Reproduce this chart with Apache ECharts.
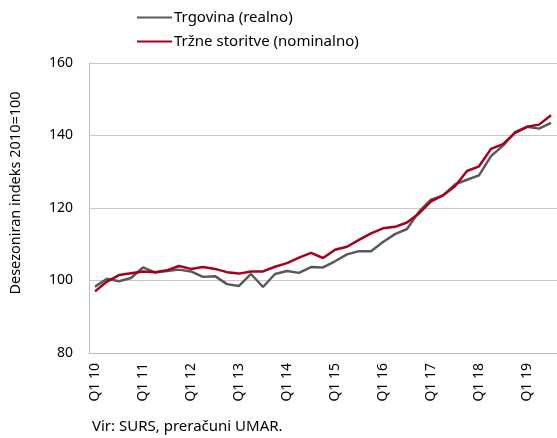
<!DOCTYPE html>
<html>
<head>
<meta charset="utf-8">
<script src="https://cdn.jsdelivr.net/npm/echarts@6/dist/echarts.min.js"></script>
<style>
  html, body { margin: 0; padding: 0; background: #fff; }
  #chart-main { width: 557px; height: 438px; }
</style>
</head>
<body>
<div id="chart-main"></div>
<script>
/* 분기 라벨: Q1 10 ... Q3 19 */
const quarters = [];
for (let y = 10; y <= 19; y++) {
  for (let q = 1; q <= 4; q++) {
    if (y === 19 && q > 3) break;
    quarters.push('Q' + q + ' ' + y);
  }
}

const seriesNames = ['Trgovina (realno)', 'Tržne storitve (nominalno)'];

const trgovina = [
  98.3, 100.5, 99.8, 100.7, 103.6, 102.2, 102.6, 103.0, 102.5, 101.0,
  101.2, 99.0, 98.5, 101.8, 98.2, 101.8, 102.6, 102.1, 103.7, 103.6,
  105.3, 107.2, 108.1, 108.1, 110.6, 112.8, 114.2, 119.0, 122.3, 123.4,
  126.5, 127.8, 129.0, 134.3, 137.2, 140.9, 142.4, 141.9, 143.5
];

const storitve = [
  97.0, 99.7, 101.5, 102.0, 102.5, 102.3, 102.8, 104.0, 103.2, 103.7,
  103.2, 102.3, 101.9, 102.5, 102.5, 103.8, 104.8, 106.3, 107.6, 106.2,
  108.5, 109.3, 111.2, 113.0, 114.4, 114.8, 116.0, 118.5, 121.8, 123.5,
  126.0, 130.2, 131.5, 136.3, 137.6, 140.7, 142.4, 143.0, 145.6
];

const yTicks = { min: 80, max: 160, interval: 20 };

const FONT = "'Noto Sans', sans-serif";
const COLORS = ['#595959', '#a6001e'];

const chart = echarts.init(document.getElementById('chart-main'), null, { renderer: 'canvas' });

chart.setOption({
  animation: false,
  color: COLORS,
  textStyle: { fontFamily: FONT, color: '#000' },
  legend: {
    orient: 'vertical',
    left: 137,
    top: 10,
    padding: 0,
    itemWidth: 35,
    itemHeight: 2,
    itemGap: 9,
    icon: 'rect',
    data: seriesNames,
    textStyle: { fontFamily: FONT, fontSize: 15, color: '#000', padding: [0, 0, 0, -3] }
  },
  grid: { left: 88, right: -3, top: 63, bottom: 85, containLabel: false },
  xAxis: {
    type: 'category',
    data: quarters,
    boundaryGap: true,
    axisLine: { lineStyle: { color: '#bfbfbf', width: 1 } },
    axisTick: { show: false },
    axisLabel: {
      interval: 3,
      rotate: 90,
      margin: 10,
      fontSize: 14,
      fontFamily: FONT,
      color: '#000'
    },
    splitLine: { show: false }
  },
  yAxis: {
    type: 'value',
    min: yTicks.min,
    max: yTicks.max,
    interval: yTicks.interval,
    name: 'Desezoniran indeks 2010=100',
    nameLocation: 'middle',
    nameGap: 66,
    nameTextStyle: { fontSize: 14.5, fontFamily: FONT, color: '#000', padding: [0, 0, 0, 30] },
    axisLine: { show: true, lineStyle: { color: '#bfbfbf', width: 1 } },
    axisTick: { show: false },
    axisLabel: { margin: 16, fontSize: 14, fontFamily: FONT, color: '#000' },
    splitLine: { lineStyle: { color: '#c8c8c8', width: 1 } }
  },
  series: [
    {
      name: seriesNames[0],
      type: 'line',
      data: trgovina,
      symbol: 'none',
      lineStyle: { width: 2.5, color: COLORS[0] },
      z: 2
    },
    {
      name: seriesNames[1],
      type: 'line',
      data: storitve,
      symbol: 'none',
      lineStyle: { width: 2.5, color: COLORS[1] },
      z: 3
    }
  ],
  graphic: [{
    type: 'text',
    left: 92,
    top: 419,
    style: { text: 'Vir: SURS, preračuni UMAR.', fontSize: 15, fontFamily: FONT, fill: '#000' }
  }]
});
</script>
</body>
</html>
